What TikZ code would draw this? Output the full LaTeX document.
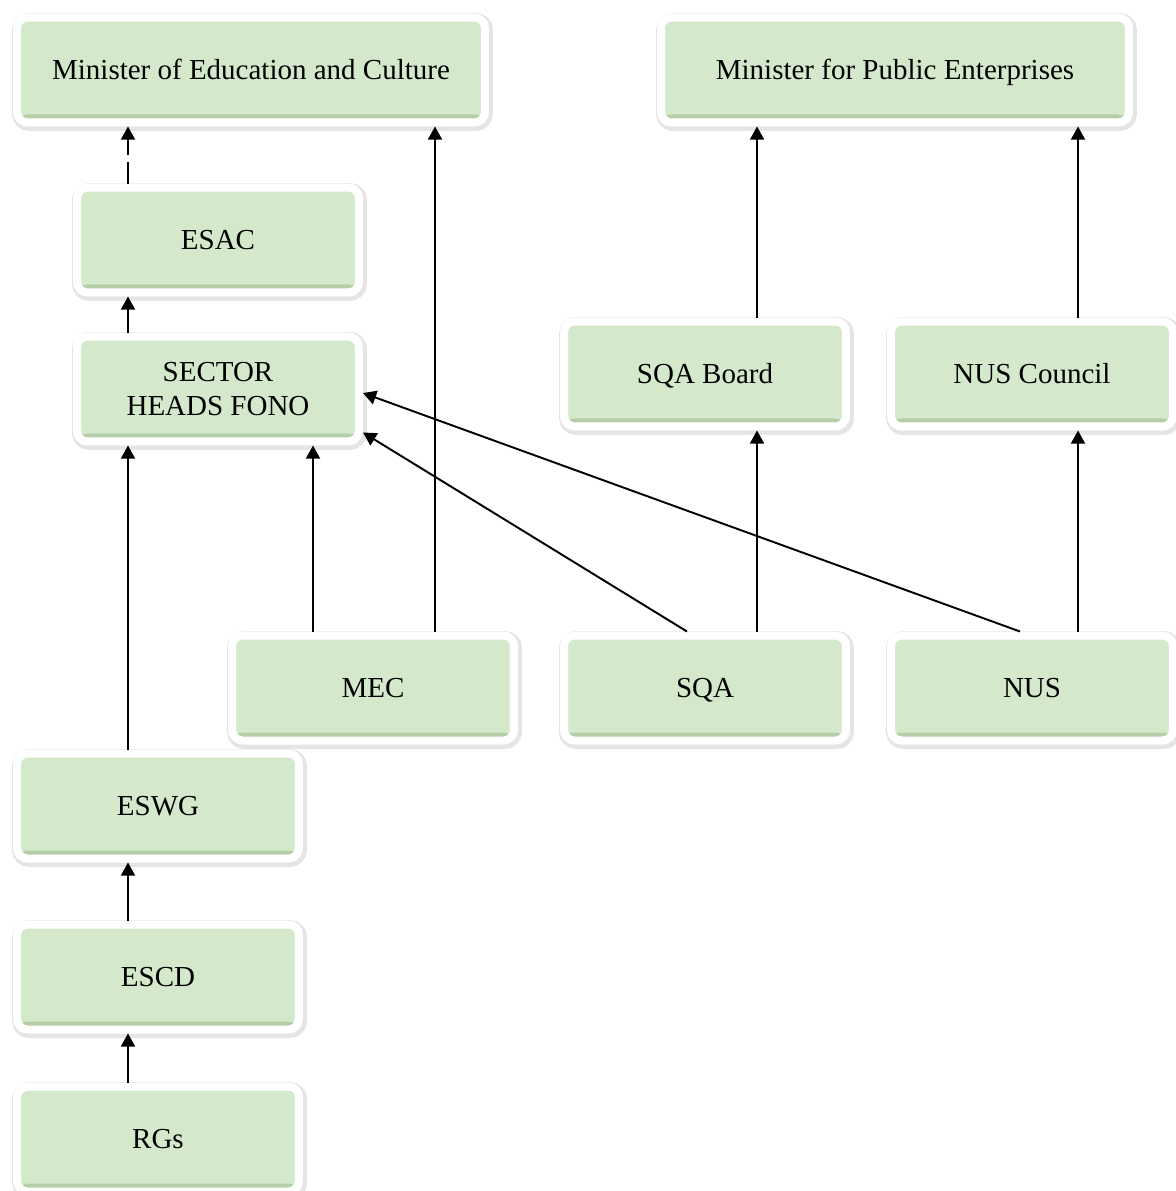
\documentclass[tikz,border=0pt]{standalone}
\usepackage{fontspec}
\setmainfont{Liberation Serif}
\usetikzlibrary{arrows.meta,shadows}
\definecolor{boxgreen}{RGB}{212,233,203}
\definecolor{boxrim}{RGB}{178,204,166}

\begin{document}
\begin{tikzpicture}[x=0.02cm, y=-0.02cm,
    frame/.style={rectangle, fill=boxgreen, draw=white, line width=0.16cm, rounded corners=6pt,
      minimum width=5.64cm, minimum height=2.1cm, align=center, font=\fontsize{16.5}{19}\selectfont,
      drop shadow={draw=black!40, fill=black!40, line width=0.26cm, opacity=0.25, shadow xshift=0.03cm, shadow yshift=-0.04cm},
      path picture={\shade[top color=boxgreen, bottom color=boxrim] ([yshift=0.16cm]path picture bounding box.south west) rectangle (path picture bounding box.south east);}},
    block/.style={frame, text height=11pt, text depth=0pt},
    wide/.style={block, minimum width=9.36cm},
    line/.style={draw, line width=1.1pt, -{Triangle[length=7.5pt,width=8pt]}}
    ]
    \useasboundingbox (0,0) rectangle (1176,1191);

    \node [wide] (moe) at (251, 70) {Minister of Education and Culture};
    \node [wide] (mpe) at (895, 70) {Minister for Public Enterprises};

    \node [block] (esac) at (218, 240) {ESAC};
    \node [frame] (shf) at (218, 389) {SECTOR\\HEADS FONO};
    \node [block] (sqab) at (705, 374) {SQA Board};
    \node [block] (nusc) at (1032, 374) {NUS Council};

    \node [block] (mec) at (373, 688) {MEC};
    \node [block] (sqa) at (705, 688) {SQA};
    \node [block] (nus) at (1032, 688) {NUS};

    \node [block] (eswg) at (158, 806) {ESWG};
    \node [block] (escd) at (158, 977) {ESCD};
    \node [block] (rgs) at (158, 1139) {RGs};

    % columns of the vertical arrows
    \coordinate (c1) at (128, 0);
    \coordinate (c2) at (313, 0);
    \coordinate (c3) at (435, 0);
    \coordinate (c4) at (757, 0);
    \coordinate (c5) at (1078, 0);

    \path [line] (rgs.north -| c1) -- (escd.south -| c1);
    \path [line] (escd.north -| c1) -- (eswg.south -| c1);
    \path [line] (eswg.north -| c1) -- (shf.south -| c1);
    \path [line] (shf.north -| c1) -- (esac.south -| c1);
    \path [line, dash pattern=on 12pt off 4pt] (esac.north -| c1) -- (moe.south -| c1);

    \path [line] (mec.north -| c2) -- (shf.south -| c2);
    \path [line] (mec.north -| c3) -- (moe.south -| c3);

    \path [line] (sqa.north -| c4) -- (sqab.south -| c4);
    \path [line] (sqab.north -| c4) -- (mpe.south -| c4);
    \path [line] (nus.north -| c5) -- (nusc.south -| c5);
    \path [line] (nusc.north -| c5) -- (mpe.south -| c5);

    \path [line] ([xshift=-0.36cm]sqa.north) -- ([yshift=0.26cm]shf.south east);
    \path [line] ([xshift=-0.24cm]nus.north) -- ([yshift=-0.08cm]shf.east);
  \end{tikzpicture}
\end{document}
